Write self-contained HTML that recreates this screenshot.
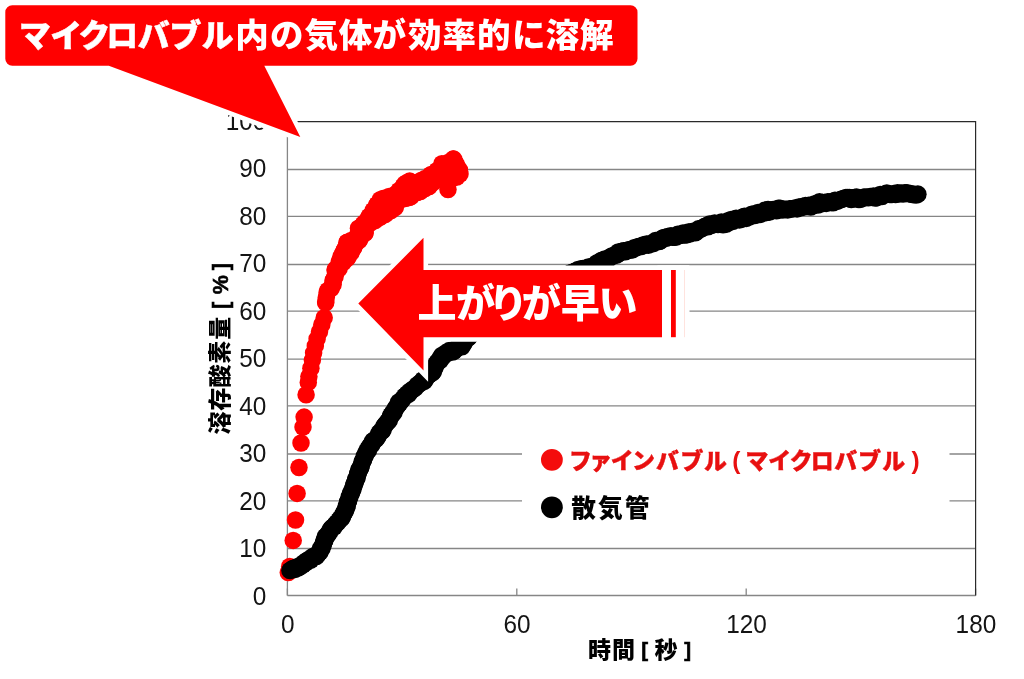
<!DOCTYPE html>
<html lang="ja"><head><meta charset="utf-8"><title>マイクロバブル 溶存酸素量</title>
<style>
html,body{margin:0;padding:0;background:#fff;}
body{width:1024px;height:679px;overflow:hidden;}
svg{display:block;}
text{font-family:"Liberation Sans","Noto Sans CJK JP",sans-serif;white-space:pre;}
.tick{font-size:25.9px;fill:#141414;}
.jp{font-weight:900;}
</style></head><body>
<svg width="1024" height="679" viewBox="0 0 1024 679">
<rect x="0" y="0" width="1024" height="679" fill="#ffffff"/>
<g stroke="#868686" stroke-width="1.3" fill="none">
<line x1="287.4" y1="595.50" x2="975.6" y2="595.50"/>
<line x1="287.4" y1="548.50" x2="975.6" y2="548.50"/>
<line x1="287.4" y1="500.80" x2="975.6" y2="500.80"/>
<line x1="287.4" y1="454.00" x2="975.6" y2="454.00"/>
<line x1="287.4" y1="405.90" x2="975.6" y2="405.90"/>
<line x1="287.4" y1="359.20" x2="975.6" y2="359.20"/>
<line x1="287.4" y1="311.10" x2="975.6" y2="311.10"/>
<line x1="287.4" y1="264.50" x2="975.6" y2="264.50"/>
<line x1="287.4" y1="216.40" x2="975.6" y2="216.40"/>
<line x1="287.4" y1="169.50" x2="975.6" y2="169.50"/>
<line x1="287.4" y1="121.6" x2="287.4" y2="595.5"/>
<line x1="287.40" y1="588.5" x2="287.40" y2="595.5"/>
<line x1="516.80" y1="588.5" x2="516.80" y2="595.5"/>
<line x1="746.20" y1="588.5" x2="746.20" y2="595.5"/>
<line x1="975.60" y1="588.5" x2="975.60" y2="595.5"/>
</g>
<path d="M287.4 121.6 H975.6 V595.5" fill="none" stroke="#2a2a2a" stroke-width="1.2"/>
<rect x="522" y="432" width="427.5" height="96" fill="#ffffff"/>
<g class="tick" text-anchor="end">
<text transform="translate(266.4 604.70) scale(0.94 1)">0</text>
<text transform="translate(266.4 557.23) scale(0.94 1)">10</text>
<text transform="translate(266.4 509.76) scale(0.94 1)">20</text>
<text transform="translate(266.4 462.29) scale(0.94 1)">30</text>
<text transform="translate(266.4 414.82) scale(0.94 1)">40</text>
<text transform="translate(266.4 367.35) scale(0.94 1)">50</text>
<text transform="translate(266.4 319.88) scale(0.94 1)">60</text>
<text transform="translate(266.4 272.41) scale(0.94 1)">70</text>
<text transform="translate(266.4 224.94) scale(0.94 1)">80</text>
<text transform="translate(266.4 177.47) scale(0.94 1)">90</text>
<text transform="translate(266.4 130.00) scale(0.94 1)">100</text>
</g>
<g class="tick" text-anchor="middle">
<text transform="translate(287.70 633.4) scale(0.94 1)">0</text>
<text transform="translate(517.10 633.4) scale(0.94 1)">60</text>
<text transform="translate(746.50 633.4) scale(0.94 1)">120</text>
<text transform="translate(975.90 633.4) scale(0.94 1)">180</text>
</g>
<text class="jp" fill="#000"><tspan x="588.1 612.0" y="657.9" font-size="23">時間</tspan><tspan x="635.5 641.2 648.2" y="656.9" font-size="20.5" stroke="#000" stroke-width="0.6"> [ </tspan><tspan x="654.6" y="657.9" font-size="23">秒</tspan><tspan x="678.6 684.3" y="656.9" font-size="20.5" stroke="#000" stroke-width="0.6"> ]</tspan></text>
<text class="jp" fill="#000" transform="translate(227.6 349.7) rotate(-90)"><tspan x="-84.8 -61.1 -37.7 -14.1 9.9" y="0.0" font-size="23">溶存酸素量</tspan><tspan x="34.6 40.6 49.5 55.5 73.5 79.5" y="0.1" font-size="21.5" stroke="#000" stroke-width="0.6"> [ % ]</tspan></text>
<g fill="#ff0000">
<circle cx="288.3" cy="572.5" r="8.75"/>
<circle cx="289.7" cy="566.5" r="8.75"/>
<circle cx="293.2" cy="540.4" r="8.75"/>
<circle cx="295.5" cy="520.0" r="8.75"/>
<circle cx="297.1" cy="493.4" r="8.75"/>
<circle cx="299.0" cy="467.5" r="8.75"/>
<circle cx="301.0" cy="443.0" r="8.75"/>
<circle cx="303.0" cy="427.1" r="8.75"/>
<circle cx="304.1" cy="417.1" r="8.75"/>
<circle cx="306.1" cy="394.7" r="8.75"/>
<circle cx="308.3" cy="382.4" r="8.75"/>
<circle cx="308.9" cy="376.6" r="8.75"/>
<circle cx="310.9" cy="368.3" r="8.75"/>
<circle cx="312.4" cy="360.1" r="8.75"/>
<circle cx="313.6" cy="353.0" r="8.75"/>
<circle cx="315.3" cy="345.9" r="8.75"/>
<circle cx="317.1" cy="338.9" r="8.75"/>
<circle cx="319.5" cy="331.8" r="8.75"/>
<circle cx="321.8" cy="324.7" r="8.75"/>
<circle cx="324.2" cy="317.7" r="8.75"/>
<circle cx="325.7" cy="301.8" r="8.75"/>
<circle cx="453.7" cy="159.1" r="8.75"/>
<circle cx="441.9" cy="163.7" r="8.75"/>
<circle cx="459.4" cy="169.9" r="8.75"/>
<circle cx="456.8" cy="177.1" r="8.75"/>
<circle cx="448.0" cy="189.5" r="8.75"/>
<circle cx="455.1" cy="162.5" r="8.75"/>
<circle cx="437.1" cy="170.5" r="8.75"/>
<circle cx="389.1" cy="196.5" r="8.75"/>
<circle cx="365.1" cy="232.5" r="8.75"/>
<circle cx="457.1" cy="174.5" r="8.75"/>
<circle cx="333.1" cy="284.5" r="8.75"/>
<circle cx="443.1" cy="178.5" r="8.75"/>
<circle cx="369.1" cy="216.5" r="8.75"/>
<circle cx="459.1" cy="170.5" r="8.75"/>
<circle cx="341.1" cy="256.5" r="8.75"/>
<circle cx="429.1" cy="186.5" r="8.75"/>
<circle cx="433.1" cy="182.5" r="8.75"/>
<circle cx="411.1" cy="196.5" r="8.75"/>
<circle cx="383.1" cy="198.5" r="8.75"/>
<circle cx="331.1" cy="288.5" r="8.75"/>
<circle cx="347.1" cy="242.5" r="8.75"/>
<circle cx="327.1" cy="292.5" r="8.75"/>
<circle cx="359.1" cy="240.5" r="8.75"/>
<circle cx="417.1" cy="192.5" r="8.75"/>
<circle cx="445.1" cy="164.5" r="8.75"/>
<circle cx="373.1" cy="210.5" r="8.75"/>
<circle cx="385.1" cy="214.5" r="8.75"/>
<circle cx="407.1" cy="182.5" r="8.75"/>
<circle cx="431.1" cy="174.5" r="8.75"/>
<circle cx="339.1" cy="268.5" r="8.75"/>
<circle cx="391.1" cy="210.5" r="8.75"/>
<circle cx="351.1" cy="252.5" r="8.75"/>
<circle cx="421.1" cy="180.5" r="8.75"/>
<circle cx="375.1" cy="220.5" r="8.75"/>
<circle cx="343.1" cy="252.5" r="8.75"/>
<circle cx="333.1" cy="280.5" r="8.75"/>
<circle cx="347.1" cy="258.5" r="8.75"/>
<circle cx="457.1" cy="166.5" r="8.75"/>
<circle cx="335.1" cy="270.5" r="8.75"/>
<circle cx="395.1" cy="194.5" r="8.75"/>
<circle cx="405.1" cy="198.5" r="8.75"/>
<circle cx="377.1" cy="204.5" r="8.75"/>
<circle cx="351.1" cy="240.5" r="8.75"/>
<circle cx="353.1" cy="248.5" r="8.75"/>
<circle cx="345.1" cy="248.5" r="8.75"/>
<circle cx="335.1" cy="276.5" r="8.75"/>
<circle cx="425.1" cy="178.5" r="8.75"/>
<circle cx="359.1" cy="228.5" r="8.75"/>
<circle cx="371.1" cy="222.5" r="8.75"/>
<circle cx="381.1" cy="216.5" r="8.75"/>
<circle cx="399.1" cy="190.5" r="8.75"/>
<circle cx="425.1" cy="188.5" r="8.75"/>
<circle cx="399.1" cy="200.5" r="8.75"/>
<circle cx="395.1" cy="206.5" r="8.75"/>
<circle cx="449.1" cy="162.5" r="8.75"/>
<circle cx="365.1" cy="228.5" r="8.75"/>
<circle cx="441.1" cy="168.5" r="8.75"/>
<circle cx="339.1" cy="262.5" r="8.75"/>
<circle cx="357.1" cy="236.5" r="8.75"/>
<circle cx="363.1" cy="224.5" r="8.75"/>
<circle cx="417.1" cy="182.5" r="8.75"/>
<circle cx="403.1" cy="186.5" r="8.75"/>
<circle cx="343.1" cy="262.5" r="8.75"/>
<circle cx="421.1" cy="190.5" r="8.75"/>
<circle cx="439.1" cy="178.5" r="8.75"/>
<circle cx="355.1" cy="244.5" r="8.75"/>
<circle cx="367.1" cy="220.5" r="8.75"/>
<circle cx="359.1" cy="232.5" r="8.75"/>
<circle cx="413.1" cy="182.5" r="8.75"/>
<circle cx="361.1" cy="236.5" r="8.75"/>
<circle cx="453.1" cy="176.5" r="8.75"/>
<circle cx="367.1" cy="224.5" r="8.75"/>
<circle cx="449.1" cy="176.5" r="8.75"/>
<circle cx="435.1" cy="178.5" r="8.75"/>
<circle cx="413.1" cy="192.5" r="8.75"/>
<circle cx="373.1" cy="214.5" r="8.75"/>
<circle cx="435.1" cy="174.5" r="8.75"/>
<circle cx="387.1" cy="210.5" r="8.75"/>
<circle cx="395.1" cy="202.5" r="8.75"/>
<circle cx="355.1" cy="240.5" r="8.75"/>
<circle cx="381.1" cy="202.5" r="8.75"/>
<circle cx="377.1" cy="208.5" r="8.75"/>
<circle cx="429.1" cy="178.5" r="8.75"/>
<circle cx="347.1" cy="254.5" r="8.75"/>
<circle cx="377.1" cy="216.5" r="8.75"/>
<circle cx="429.1" cy="182.5" r="8.75"/>
<circle cx="393.1" cy="198.5" r="8.75"/>
<circle cx="445.1" cy="168.5" r="8.75"/>
<circle cx="399.1" cy="194.5" r="8.75"/>
<circle cx="387.1" cy="200.5" r="8.75"/>
<circle cx="445.1" cy="174.5" r="8.75"/>
<circle cx="349.1" cy="246.5" r="8.75"/>
<circle cx="391.1" cy="206.5" r="8.75"/>
<circle cx="403.1" cy="190.5" r="8.75"/>
<circle cx="407.1" cy="186.5" r="8.75"/>
<circle cx="455.1" cy="170.5" r="8.75"/>
<circle cx="421.1" cy="184.5" r="8.75"/>
<circle cx="407.1" cy="194.5" r="8.75"/>
<circle cx="441.1" cy="172.5" r="8.75"/>
<circle cx="417.1" cy="188.5" r="8.75"/>
<circle cx="381.1" cy="212.5" r="8.75"/>
<circle cx="425.1" cy="182.5" r="8.75"/>
<circle cx="453.1" cy="166.5" r="8.75"/>
<circle cx="449.1" cy="166.5" r="8.75"/>
<circle cx="377.1" cy="212.5" r="8.75"/>
<circle cx="403.1" cy="194.5" r="8.75"/>
<circle cx="381.1" cy="206.5" r="8.75"/>
<circle cx="413.1" cy="186.5" r="8.75"/>
<circle cx="451.1" cy="172.5" r="8.75"/>
<circle cx="387.1" cy="206.5" r="8.75"/>
<circle cx="391.1" cy="202.5" r="8.75"/>
<circle cx="409.1" cy="190.5" r="8.75"/>
<circle cx="325.7" cy="302.8" r="8.75"/>
<circle cx="327.8" cy="290.5" r="8.75"/>
<circle cx="333.5" cy="280.1" r="8.75"/>
<circle cx="335.4" cy="269.2" r="8.75"/>
<circle cx="339.7" cy="260.8" r="8.75"/>
<circle cx="344.6" cy="249.9" r="8.75"/>
<circle cx="347.2" cy="242.2" r="8.75"/>
<circle cx="356.6" cy="236.8" r="8.75"/>
<circle cx="358.5" cy="228.3" r="8.75"/>
<circle cx="364.5" cy="222.7" r="8.75"/>
<circle cx="370.5" cy="215.6" r="8.75"/>
<circle cx="376.9" cy="205.0" r="8.75"/>
<circle cx="380.2" cy="199.8" r="8.75"/>
<circle cx="384.8" cy="198.3" r="8.75"/>
<circle cx="394.8" cy="195.0" r="8.75"/>
<circle cx="404.8" cy="184.0" r="8.75"/>
<circle cx="409.7" cy="181.1" r="8.75"/>
<circle cx="418.6" cy="182.0" r="8.75"/>
<circle cx="430.5" cy="175.3" r="8.75"/>
<circle cx="438.8" cy="170.1" r="8.75"/>
<circle cx="447.7" cy="162.8" r="8.75"/>
<circle cx="453.0" cy="159.1" r="8.75"/>
<circle cx="456.0" cy="164.1" r="8.75"/>
<circle cx="460.0" cy="174.0" r="8.75"/>
<circle cx="326.3" cy="297.5" r="8.75"/>
<circle cx="332.6" cy="284.5" r="8.75"/>
<circle cx="337.2" cy="270.5" r="8.75"/>
<circle cx="348.3" cy="256.7" r="8.75"/>
<circle cx="353.8" cy="247.2" r="8.75"/>
<circle cx="359.5" cy="239.2" r="8.75"/>
<circle cx="364.9" cy="233.3" r="8.75"/>
<circle cx="367.2" cy="225.3" r="8.75"/>
<circle cx="379.4" cy="217.6" r="8.75"/>
<circle cx="387.4" cy="212.6" r="8.75"/>
<circle cx="395.2" cy="207.5" r="8.75"/>
<circle cx="399.4" cy="200.4" r="8.75"/>
<circle cx="409.1" cy="197.6" r="8.75"/>
<circle cx="415.8" cy="192.6" r="8.75"/>
<circle cx="420.3" cy="191.5" r="8.75"/>
<circle cx="428.4" cy="186.6" r="8.75"/>
<circle cx="435.1" cy="180.3" r="8.75"/>
<circle cx="445.9" cy="177.3" r="8.75"/>
<circle cx="453.2" cy="177.7" r="8.75"/>
<circle cx="459.4" cy="171.7" r="8.75"/>
</g>
<g fill="#000000">
<circle cx="290.0" cy="570.5" r="8.85"/>
<circle cx="291.7" cy="569.4" r="8.85"/>
<circle cx="293.3" cy="568.3" r="8.85"/>
<circle cx="295.0" cy="569.3" r="8.85"/>
<circle cx="296.7" cy="567.0" r="8.85"/>
<circle cx="298.3" cy="567.8" r="8.85"/>
<circle cx="300.0" cy="566.7" r="8.85"/>
<circle cx="301.3" cy="564.8" r="8.85"/>
<circle cx="302.7" cy="565.1" r="8.85"/>
<circle cx="304.0" cy="562.7" r="8.85"/>
<circle cx="305.4" cy="562.9" r="8.85"/>
<circle cx="306.7" cy="560.8" r="8.85"/>
<circle cx="308.1" cy="559.9" r="8.85"/>
<circle cx="309.4" cy="559.9" r="8.85"/>
<circle cx="310.8" cy="560.1" r="8.85"/>
<circle cx="312.2" cy="557.0" r="8.85"/>
<circle cx="313.5" cy="556.3" r="8.85"/>
<circle cx="314.9" cy="556.5" r="8.85"/>
<circle cx="316.3" cy="556.5" r="8.85"/>
<circle cx="317.7" cy="554.4" r="8.85"/>
<circle cx="318.8" cy="552.2" r="8.85"/>
<circle cx="319.8" cy="552.3" r="8.85"/>
<circle cx="320.9" cy="547.9" r="8.85"/>
<circle cx="321.9" cy="548.6" r="8.85"/>
<circle cx="323.0" cy="545.3" r="8.85"/>
<circle cx="323.5" cy="543.2" r="8.85"/>
<circle cx="323.9" cy="541.5" r="8.85"/>
<circle cx="324.4" cy="540.4" r="8.85"/>
<circle cx="324.8" cy="540.3" r="8.85"/>
<circle cx="325.3" cy="536.7" r="8.85"/>
<circle cx="326.4" cy="536.5" r="8.85"/>
<circle cx="327.4" cy="535.3" r="8.85"/>
<circle cx="328.5" cy="533.1" r="8.85"/>
<circle cx="329.5" cy="532.2" r="8.85"/>
<circle cx="330.6" cy="529.3" r="8.85"/>
<circle cx="331.8" cy="527.9" r="8.85"/>
<circle cx="333.0" cy="526.9" r="8.85"/>
<circle cx="334.1" cy="526.9" r="8.85"/>
<circle cx="335.3" cy="524.8" r="8.85"/>
<circle cx="336.5" cy="523.0" r="8.85"/>
<circle cx="337.7" cy="522.4" r="8.85"/>
<circle cx="338.9" cy="520.6" r="8.85"/>
<circle cx="340.0" cy="518.7" r="8.85"/>
<circle cx="341.2" cy="518.8" r="8.85"/>
<circle cx="342.4" cy="517.1" r="8.85"/>
<circle cx="343.1" cy="514.1" r="8.85"/>
<circle cx="343.8" cy="513.4" r="8.85"/>
<circle cx="344.6" cy="511.6" r="8.85"/>
<circle cx="345.3" cy="511.0" r="8.85"/>
<circle cx="346.0" cy="508.9" r="8.85"/>
<circle cx="346.5" cy="505.9" r="8.85"/>
<circle cx="347.0" cy="506.4" r="8.85"/>
<circle cx="347.6" cy="502.1" r="8.85"/>
<circle cx="348.1" cy="501.4" r="8.85"/>
<circle cx="348.6" cy="500.8" r="8.85"/>
<circle cx="349.2" cy="497.2" r="8.85"/>
<circle cx="349.9" cy="496.5" r="8.85"/>
<circle cx="350.5" cy="493.4" r="8.85"/>
<circle cx="351.1" cy="493.5" r="8.85"/>
<circle cx="351.7" cy="492.0" r="8.85"/>
<circle cx="352.4" cy="489.7" r="8.85"/>
<circle cx="353.0" cy="488.9" r="8.85"/>
<circle cx="353.6" cy="485.4" r="8.85"/>
<circle cx="354.2" cy="484.9" r="8.85"/>
<circle cx="354.8" cy="482.9" r="8.85"/>
<circle cx="355.4" cy="481.2" r="8.85"/>
<circle cx="355.9" cy="479.1" r="8.85"/>
<circle cx="356.5" cy="478.6" r="8.85"/>
<circle cx="357.1" cy="477.2" r="8.85"/>
<circle cx="357.7" cy="474.1" r="8.85"/>
<circle cx="358.3" cy="473.1" r="8.85"/>
<circle cx="358.9" cy="469.7" r="8.85"/>
<circle cx="359.4" cy="470.1" r="8.85"/>
<circle cx="360.0" cy="468.4" r="8.85"/>
<circle cx="360.6" cy="467.8" r="8.85"/>
<circle cx="361.2" cy="465.8" r="8.85"/>
<circle cx="362.0" cy="462.4" r="8.85"/>
<circle cx="362.8" cy="460.9" r="8.85"/>
<circle cx="363.5" cy="460.0" r="8.85"/>
<circle cx="364.3" cy="456.3" r="8.85"/>
<circle cx="365.1" cy="455.9" r="8.85"/>
<circle cx="365.9" cy="453.2" r="8.85"/>
<circle cx="366.7" cy="451.5" r="8.85"/>
<circle cx="367.6" cy="449.8" r="8.85"/>
<circle cx="368.4" cy="450.5" r="8.85"/>
<circle cx="369.3" cy="447.0" r="8.85"/>
<circle cx="370.1" cy="445.9" r="8.85"/>
<circle cx="371.0" cy="444.8" r="8.85"/>
<circle cx="371.8" cy="444.7" r="8.85"/>
<circle cx="372.8" cy="441.0" r="8.85"/>
<circle cx="373.8" cy="440.7" r="8.85"/>
<circle cx="374.8" cy="439.7" r="8.85"/>
<circle cx="375.9" cy="439.3" r="8.85"/>
<circle cx="376.9" cy="437.8" r="8.85"/>
<circle cx="377.9" cy="436.5" r="8.85"/>
<circle cx="378.9" cy="433.4" r="8.85"/>
<circle cx="379.9" cy="432.5" r="8.85"/>
<circle cx="380.9" cy="431.0" r="8.85"/>
<circle cx="381.9" cy="431.2" r="8.85"/>
<circle cx="383.0" cy="430.1" r="8.85"/>
<circle cx="384.0" cy="426.3" r="8.85"/>
<circle cx="385.0" cy="425.1" r="8.85"/>
<circle cx="386.0" cy="423.9" r="8.85"/>
<circle cx="387.1" cy="422.3" r="8.85"/>
<circle cx="388.1" cy="421.5" r="8.85"/>
<circle cx="389.2" cy="420.3" r="8.85"/>
<circle cx="390.0" cy="417.8" r="8.85"/>
<circle cx="390.8" cy="415.5" r="8.85"/>
<circle cx="391.6" cy="415.3" r="8.85"/>
<circle cx="392.3" cy="413.6" r="8.85"/>
<circle cx="393.1" cy="412.7" r="8.85"/>
<circle cx="393.9" cy="412.4" r="8.85"/>
<circle cx="394.7" cy="410.1" r="8.85"/>
<circle cx="395.7" cy="408.0" r="8.85"/>
<circle cx="396.7" cy="406.8" r="8.85"/>
<circle cx="397.7" cy="405.5" r="8.85"/>
<circle cx="398.8" cy="402.1" r="8.85"/>
<circle cx="399.8" cy="403.1" r="8.85"/>
<circle cx="400.8" cy="401.3" r="8.85"/>
<circle cx="401.8" cy="400.0" r="8.85"/>
<circle cx="403.1" cy="398.8" r="8.85"/>
<circle cx="404.5" cy="396.5" r="8.85"/>
<circle cx="405.8" cy="395.6" r="8.85"/>
<circle cx="407.2" cy="393.7" r="8.85"/>
<circle cx="408.5" cy="394.2" r="8.85"/>
<circle cx="409.9" cy="391.5" r="8.85"/>
<circle cx="411.2" cy="390.5" r="8.85"/>
<circle cx="412.6" cy="389.8" r="8.85"/>
<circle cx="414.0" cy="388.5" r="8.85"/>
<circle cx="415.4" cy="387.8" r="8.85"/>
<circle cx="416.7" cy="385.8" r="8.85"/>
<circle cx="418.1" cy="384.5" r="8.85"/>
<circle cx="419.5" cy="383.8" r="8.85"/>
<circle cx="420.7" cy="382.4" r="8.85"/>
<circle cx="421.9" cy="382.0" r="8.85"/>
<circle cx="423.0" cy="379.8" r="8.85"/>
<circle cx="424.2" cy="381.2" r="8.85"/>
<circle cx="425.4" cy="379.2" r="8.85"/>
<circle cx="426.6" cy="376.7" r="8.85"/>
<circle cx="427.7" cy="375.8" r="8.85"/>
<circle cx="428.9" cy="374.9" r="8.85"/>
<circle cx="430.1" cy="373.8" r="8.85"/>
<circle cx="431.2" cy="371.9" r="8.85"/>
<circle cx="432.4" cy="372.8" r="8.85"/>
<circle cx="433.3" cy="371.6" r="8.85"/>
<circle cx="434.3" cy="368.4" r="8.85"/>
<circle cx="435.2" cy="366.8" r="8.85"/>
<circle cx="436.2" cy="364.0" r="8.85"/>
<circle cx="437.1" cy="362.4" r="8.85"/>
<circle cx="438.1" cy="361.7" r="8.85"/>
<circle cx="439.1" cy="360.1" r="8.85"/>
<circle cx="440.1" cy="360.4" r="8.85"/>
<circle cx="441.0" cy="357.1" r="8.85"/>
<circle cx="442.0" cy="355.3" r="8.85"/>
<circle cx="443.0" cy="356.7" r="8.85"/>
<circle cx="444.6" cy="354.6" r="8.85"/>
<circle cx="446.1" cy="352.7" r="8.85"/>
<circle cx="447.7" cy="353.1" r="8.85"/>
<circle cx="449.3" cy="350.7" r="8.85"/>
<circle cx="450.8" cy="351.5" r="8.85"/>
<circle cx="452.4" cy="352.0" r="8.85"/>
<circle cx="454.0" cy="350.9" r="8.85"/>
<circle cx="455.6" cy="349.6" r="8.85"/>
<circle cx="457.1" cy="347.5" r="8.85"/>
<circle cx="458.7" cy="347.1" r="8.85"/>
<circle cx="460.3" cy="345.7" r="8.85"/>
<circle cx="461.9" cy="346.7" r="8.85"/>
<circle cx="462.9" cy="344.3" r="8.85"/>
<circle cx="463.9" cy="343.3" r="8.85"/>
<circle cx="465.0" cy="340.2" r="8.85"/>
<circle cx="466.0" cy="338.2" r="8.85"/>
<circle cx="467.3" cy="338.5" r="8.85"/>
<circle cx="468.7" cy="337.6" r="8.85"/>
<circle cx="470.0" cy="335.8" r="8.85"/>
<circle cx="471.3" cy="334.3" r="8.85"/>
<circle cx="472.7" cy="332.9" r="8.85"/>
<circle cx="474.0" cy="331.2" r="8.85"/>
<circle cx="475.5" cy="328.5" r="8.85"/>
<circle cx="476.9" cy="328.3" r="8.85"/>
<circle cx="478.4" cy="326.7" r="8.85"/>
<circle cx="479.8" cy="324.5" r="8.85"/>
<circle cx="481.3" cy="323.4" r="8.85"/>
<circle cx="482.7" cy="323.0" r="8.85"/>
<circle cx="484.2" cy="321.8" r="8.85"/>
<circle cx="485.6" cy="322.0" r="8.85"/>
<circle cx="487.1" cy="321.6" r="8.85"/>
<circle cx="488.5" cy="319.0" r="8.85"/>
<circle cx="490.0" cy="319.3" r="8.85"/>
<circle cx="491.5" cy="318.5" r="8.85"/>
<circle cx="493.0" cy="317.5" r="8.85"/>
<circle cx="494.5" cy="314.7" r="8.85"/>
<circle cx="496.0" cy="313.4" r="8.85"/>
<circle cx="497.5" cy="312.4" r="8.85"/>
<circle cx="499.0" cy="311.4" r="8.85"/>
<circle cx="500.5" cy="310.5" r="8.85"/>
<circle cx="502.0" cy="310.8" r="8.85"/>
<circle cx="503.5" cy="310.7" r="8.85"/>
<circle cx="505.0" cy="309.5" r="8.85"/>
<circle cx="506.5" cy="307.5" r="8.85"/>
<circle cx="508.0" cy="307.1" r="8.85"/>
<circle cx="509.5" cy="306.5" r="8.85"/>
<circle cx="511.0" cy="303.5" r="8.85"/>
<circle cx="512.5" cy="304.2" r="8.85"/>
<circle cx="514.0" cy="304.0" r="8.85"/>
<circle cx="515.5" cy="302.7" r="8.85"/>
<circle cx="517.0" cy="301.7" r="8.85"/>
<circle cx="518.5" cy="299.9" r="8.85"/>
<circle cx="520.0" cy="298.0" r="8.85"/>
<circle cx="521.6" cy="299.0" r="8.85"/>
<circle cx="523.2" cy="296.8" r="8.85"/>
<circle cx="524.7" cy="297.4" r="8.85"/>
<circle cx="526.3" cy="297.0" r="8.85"/>
<circle cx="527.9" cy="294.5" r="8.85"/>
<circle cx="529.5" cy="293.7" r="8.85"/>
<circle cx="531.1" cy="294.4" r="8.85"/>
<circle cx="532.6" cy="292.9" r="8.85"/>
<circle cx="534.2" cy="290.4" r="8.85"/>
<circle cx="535.8" cy="289.5" r="8.85"/>
<circle cx="537.4" cy="288.7" r="8.85"/>
<circle cx="538.9" cy="290.1" r="8.85"/>
<circle cx="540.5" cy="289.0" r="8.85"/>
<circle cx="542.1" cy="286.1" r="8.85"/>
<circle cx="543.7" cy="287.3" r="8.85"/>
<circle cx="545.3" cy="287.0" r="8.85"/>
<circle cx="546.8" cy="285.2" r="8.85"/>
<circle cx="548.4" cy="283.4" r="8.85"/>
<circle cx="550.0" cy="283.1" r="8.85"/>
<circle cx="551.7" cy="281.1" r="8.85"/>
<circle cx="553.3" cy="280.0" r="8.85"/>
<circle cx="555.0" cy="282.2" r="8.85"/>
<circle cx="556.7" cy="280.4" r="8.85"/>
<circle cx="558.3" cy="279.3" r="8.85"/>
<circle cx="560.0" cy="279.8" r="8.85"/>
<circle cx="561.7" cy="277.6" r="8.85"/>
<circle cx="563.3" cy="278.1" r="8.85"/>
<circle cx="565.0" cy="277.2" r="8.85"/>
<circle cx="566.7" cy="274.6" r="8.85"/>
<circle cx="568.3" cy="274.0" r="8.85"/>
<circle cx="570.0" cy="273.4" r="8.85"/>
<circle cx="571.6" cy="272.5" r="8.85"/>
<circle cx="573.2" cy="272.9" r="8.85"/>
<circle cx="574.9" cy="271.3" r="8.85"/>
<circle cx="576.5" cy="271.1" r="8.85"/>
<circle cx="578.1" cy="269.5" r="8.85"/>
<circle cx="579.8" cy="271.2" r="8.85"/>
<circle cx="581.4" cy="268.8" r="8.85"/>
<circle cx="583.0" cy="268.5" r="8.85"/>
<circle cx="584.8" cy="268.5" r="8.85"/>
<circle cx="586.5" cy="269.0" r="8.85"/>
<circle cx="588.3" cy="267.2" r="8.85"/>
<circle cx="590.1" cy="268.3" r="8.85"/>
<circle cx="591.8" cy="266.6" r="8.85"/>
<circle cx="593.6" cy="266.3" r="8.85"/>
<circle cx="595.2" cy="265.4" r="8.85"/>
<circle cx="596.8" cy="263.0" r="8.85"/>
<circle cx="598.4" cy="263.4" r="8.85"/>
<circle cx="600.0" cy="261.7" r="8.85"/>
<circle cx="601.7" cy="260.3" r="8.85"/>
<circle cx="603.3" cy="261.8" r="8.85"/>
<circle cx="604.9" cy="259.0" r="8.85"/>
<circle cx="606.5" cy="259.0" r="8.85"/>
<circle cx="608.2" cy="258.9" r="8.85"/>
<circle cx="609.9" cy="257.6" r="8.85"/>
<circle cx="611.6" cy="256.0" r="8.85"/>
<circle cx="613.2" cy="255.8" r="8.85"/>
<circle cx="614.9" cy="255.1" r="8.85"/>
<circle cx="616.6" cy="254.9" r="8.85"/>
<circle cx="618.3" cy="252.0" r="8.85"/>
<circle cx="620.1" cy="252.8" r="8.85"/>
<circle cx="621.8" cy="251.3" r="8.85"/>
<circle cx="623.6" cy="250.8" r="8.85"/>
<circle cx="625.3" cy="251.7" r="8.85"/>
<circle cx="627.1" cy="250.3" r="8.85"/>
<circle cx="628.9" cy="249.9" r="8.85"/>
<circle cx="630.6" cy="249.9" r="8.85"/>
<circle cx="632.4" cy="249.7" r="8.85"/>
<circle cx="634.2" cy="247.8" r="8.85"/>
<circle cx="635.9" cy="247.8" r="8.85"/>
<circle cx="637.7" cy="246.9" r="8.85"/>
<circle cx="639.5" cy="246.4" r="8.85"/>
<circle cx="641.2" cy="246.4" r="8.85"/>
<circle cx="643.0" cy="245.2" r="8.85"/>
<circle cx="644.8" cy="244.9" r="8.85"/>
<circle cx="646.6" cy="244.2" r="8.85"/>
<circle cx="648.3" cy="245.1" r="8.85"/>
<circle cx="650.1" cy="243.8" r="8.85"/>
<circle cx="651.9" cy="243.7" r="8.85"/>
<circle cx="653.7" cy="243.3" r="8.85"/>
<circle cx="655.5" cy="240.7" r="8.85"/>
<circle cx="657.4" cy="241.0" r="8.85"/>
<circle cx="659.2" cy="241.5" r="8.85"/>
<circle cx="661.0" cy="240.6" r="8.85"/>
<circle cx="662.7" cy="238.1" r="8.85"/>
<circle cx="664.3" cy="237.6" r="8.85"/>
<circle cx="666.0" cy="238.2" r="8.85"/>
<circle cx="667.7" cy="236.6" r="8.85"/>
<circle cx="669.4" cy="236.7" r="8.85"/>
<circle cx="671.0" cy="235.8" r="8.85"/>
<circle cx="672.7" cy="237.2" r="8.85"/>
<circle cx="674.4" cy="237.1" r="8.85"/>
<circle cx="676.0" cy="237.0" r="8.85"/>
<circle cx="677.7" cy="234.4" r="8.85"/>
<circle cx="679.5" cy="235.6" r="8.85"/>
<circle cx="681.2" cy="235.0" r="8.85"/>
<circle cx="683.0" cy="233.1" r="8.85"/>
<circle cx="684.7" cy="234.9" r="8.85"/>
<circle cx="686.5" cy="234.7" r="8.85"/>
<circle cx="688.3" cy="232.0" r="8.85"/>
<circle cx="690.0" cy="233.8" r="8.85"/>
<circle cx="691.8" cy="231.7" r="8.85"/>
<circle cx="693.5" cy="231.6" r="8.85"/>
<circle cx="695.3" cy="232.7" r="8.85"/>
<circle cx="696.9" cy="231.6" r="8.85"/>
<circle cx="698.5" cy="228.9" r="8.85"/>
<circle cx="700.0" cy="229.1" r="8.85"/>
<circle cx="701.6" cy="228.7" r="8.85"/>
<circle cx="703.2" cy="227.5" r="8.85"/>
<circle cx="704.8" cy="226.4" r="8.85"/>
<circle cx="706.3" cy="226.1" r="8.85"/>
<circle cx="707.9" cy="226.7" r="8.85"/>
<circle cx="709.5" cy="224.0" r="8.85"/>
<circle cx="711.2" cy="225.3" r="8.85"/>
<circle cx="712.9" cy="224.7" r="8.85"/>
<circle cx="714.6" cy="223.2" r="8.85"/>
<circle cx="716.3" cy="223.8" r="8.85"/>
<circle cx="718.0" cy="224.4" r="8.85"/>
<circle cx="719.7" cy="223.8" r="8.85"/>
<circle cx="721.4" cy="222.2" r="8.85"/>
<circle cx="723.1" cy="224.7" r="8.85"/>
<circle cx="724.8" cy="223.9" r="8.85"/>
<circle cx="726.4" cy="223.9" r="8.85"/>
<circle cx="728.0" cy="220.8" r="8.85"/>
<circle cx="729.6" cy="220.8" r="8.85"/>
<circle cx="731.2" cy="219.6" r="8.85"/>
<circle cx="732.9" cy="221.3" r="8.85"/>
<circle cx="734.5" cy="219.3" r="8.85"/>
<circle cx="736.1" cy="218.4" r="8.85"/>
<circle cx="737.7" cy="218.8" r="8.85"/>
<circle cx="739.4" cy="219.8" r="8.85"/>
<circle cx="741.1" cy="219.2" r="8.85"/>
<circle cx="742.8" cy="217.1" r="8.85"/>
<circle cx="744.5" cy="216.3" r="8.85"/>
<circle cx="746.2" cy="218.3" r="8.85"/>
<circle cx="747.9" cy="216.8" r="8.85"/>
<circle cx="749.6" cy="216.8" r="8.85"/>
<circle cx="751.3" cy="214.6" r="8.85"/>
<circle cx="753.0" cy="214.1" r="8.85"/>
<circle cx="754.7" cy="215.4" r="8.85"/>
<circle cx="756.4" cy="214.1" r="8.85"/>
<circle cx="758.1" cy="212.5" r="8.85"/>
<circle cx="759.7" cy="214.5" r="8.85"/>
<circle cx="761.4" cy="213.1" r="8.85"/>
<circle cx="763.1" cy="213.0" r="8.85"/>
<circle cx="764.8" cy="210.4" r="8.85"/>
<circle cx="766.5" cy="212.4" r="8.85"/>
<circle cx="768.1" cy="209.7" r="8.85"/>
<circle cx="769.8" cy="211.8" r="8.85"/>
<circle cx="771.5" cy="210.2" r="8.85"/>
<circle cx="773.2" cy="209.6" r="8.85"/>
<circle cx="774.9" cy="209.9" r="8.85"/>
<circle cx="776.5" cy="210.7" r="8.85"/>
<circle cx="778.2" cy="208.4" r="8.85"/>
<circle cx="780.1" cy="208.3" r="8.85"/>
<circle cx="782.0" cy="209.9" r="8.85"/>
<circle cx="783.9" cy="209.3" r="8.85"/>
<circle cx="785.8" cy="209.3" r="8.85"/>
<circle cx="787.7" cy="209.8" r="8.85"/>
<circle cx="789.6" cy="208.9" r="8.85"/>
<circle cx="791.5" cy="208.8" r="8.85"/>
<circle cx="793.3" cy="208.6" r="8.85"/>
<circle cx="795.2" cy="208.0" r="8.85"/>
<circle cx="797.1" cy="208.8" r="8.85"/>
<circle cx="798.8" cy="207.2" r="8.85"/>
<circle cx="800.5" cy="207.7" r="8.85"/>
<circle cx="802.2" cy="206.5" r="8.85"/>
<circle cx="803.8" cy="206.9" r="8.85"/>
<circle cx="805.5" cy="205.7" r="8.85"/>
<circle cx="807.2" cy="206.2" r="8.85"/>
<circle cx="808.9" cy="205.3" r="8.85"/>
<circle cx="810.7" cy="206.9" r="8.85"/>
<circle cx="812.4" cy="205.7" r="8.85"/>
<circle cx="814.2" cy="204.0" r="8.85"/>
<circle cx="816.0" cy="204.2" r="8.85"/>
<circle cx="817.7" cy="204.9" r="8.85"/>
<circle cx="819.5" cy="201.8" r="8.85"/>
<circle cx="821.2" cy="203.8" r="8.85"/>
<circle cx="822.8" cy="202.5" r="8.85"/>
<circle cx="824.5" cy="202.5" r="8.85"/>
<circle cx="826.2" cy="203.3" r="8.85"/>
<circle cx="827.9" cy="201.8" r="8.85"/>
<circle cx="829.5" cy="202.0" r="8.85"/>
<circle cx="831.2" cy="202.4" r="8.85"/>
<circle cx="833.1" cy="202.7" r="8.85"/>
<circle cx="835.0" cy="200.3" r="8.85"/>
<circle cx="836.9" cy="201.2" r="8.85"/>
<circle cx="838.8" cy="200.3" r="8.85"/>
<circle cx="840.7" cy="199.6" r="8.85"/>
<circle cx="842.5" cy="198.8" r="8.85"/>
<circle cx="844.2" cy="198.6" r="8.85"/>
<circle cx="846.0" cy="197.6" r="8.85"/>
<circle cx="847.8" cy="197.7" r="8.85"/>
<circle cx="849.5" cy="197.5" r="8.85"/>
<circle cx="851.3" cy="199.4" r="8.85"/>
<circle cx="853.0" cy="197.9" r="8.85"/>
<circle cx="854.8" cy="197.5" r="8.85"/>
<circle cx="856.5" cy="197.2" r="8.85"/>
<circle cx="858.2" cy="199.3" r="8.85"/>
<circle cx="859.9" cy="199.3" r="8.85"/>
<circle cx="861.6" cy="198.7" r="8.85"/>
<circle cx="863.3" cy="197.4" r="8.85"/>
<circle cx="865.0" cy="197.2" r="8.85"/>
<circle cx="866.7" cy="197.3" r="8.85"/>
<circle cx="868.4" cy="197.7" r="8.85"/>
<circle cx="870.1" cy="196.7" r="8.85"/>
<circle cx="871.8" cy="197.2" r="8.85"/>
<circle cx="873.5" cy="196.2" r="8.85"/>
<circle cx="875.2" cy="197.9" r="8.85"/>
<circle cx="876.8" cy="197.6" r="8.85"/>
<circle cx="878.5" cy="195.9" r="8.85"/>
<circle cx="880.2" cy="194.6" r="8.85"/>
<circle cx="881.9" cy="196.4" r="8.85"/>
<circle cx="883.5" cy="194.3" r="8.85"/>
<circle cx="885.1" cy="194.4" r="8.85"/>
<circle cx="886.8" cy="193.2" r="8.85"/>
<circle cx="888.4" cy="194.2" r="8.85"/>
<circle cx="890.0" cy="194.4" r="8.85"/>
<circle cx="891.9" cy="194.5" r="8.85"/>
<circle cx="893.8" cy="193.6" r="8.85"/>
<circle cx="895.6" cy="194.4" r="8.85"/>
<circle cx="897.5" cy="192.9" r="8.85"/>
<circle cx="899.4" cy="193.7" r="8.85"/>
<circle cx="901.2" cy="193.1" r="8.85"/>
<circle cx="903.1" cy="194.0" r="8.85"/>
<circle cx="905.0" cy="192.9" r="8.85"/>
<circle cx="906.8" cy="192.9" r="8.85"/>
<circle cx="908.7" cy="193.7" r="8.85"/>
<circle cx="910.5" cy="193.5" r="8.85"/>
<circle cx="912.3" cy="194.5" r="8.85"/>
<circle cx="914.1" cy="194.3" r="8.85"/>
<circle cx="916.0" cy="195.0" r="8.85"/>
<circle cx="917.8" cy="194.2" r="8.85"/>
</g>
<circle cx="551.9" cy="459.8" r="10.9" fill="#f40c0c"/>
<text class="jp" fill="#e81010"><tspan x="569.1 589.2 610.8 631.9 656.0 680.4 704.0" y="469.1" font-size="22.89" stroke="#e81010" stroke-width="0.4">ファインバブル</tspan><tspan x="725.4 732.2 740.5" y="469.0" font-size="24.5"> ( </tspan><tspan x="745.4 768.3 789.8 810.7 834.3 858.2 882.3" y="469.1" font-size="22.89" stroke="#e81010" stroke-width="0.4">マイクロバブル</tspan><tspan x="904.7 911.5" y="469.0" font-size="24.5"> )</tspan></text>
<circle cx="551.9" cy="507.3" r="10.9" fill="#000"/>
<text class="jp" fill="#000"><tspan x="571.2 598.1 624.8" y="516.6" font-size="24.7">散気管</tspan></text>
<g stroke="#ffffff" stroke-width="9.2" stroke-linejoin="miter" fill="#ffffff">
<path d="M358.3 303.6 L423.5 237.8 V270 H662 V337.2 H423.5 V370.5 Z"/>
<rect x="662" y="270" width="22.6" height="67.2"/>
<rect x="671" y="270" width="4.8" height="67.2"/>
<rect x="684.2" y="270" width="0.6" height="67.2"/>
</g>
<path d="M358.3 303.6 L423.5 237.8 V270 H662 V337.2 H423.5 V370.5 Z" fill="#ff0000"/>
<rect x="671" y="270" width="4.8" height="67.2" fill="#ff0000"/>
<rect x="684.2" y="270" width="0.6" height="67.2" fill="#ffd0c8"/>
<text class="jp" fill="#fff"><tspan x="417.4 455.9 488.8 521.8 560.7 598.5" y="317.4" font-size="39">上がりが早い</tspan></text>
<path d="M12.3 5.3 H630.5 A7 7 0 0 1 637.5 12.3 V58.8 A7 7 0 0 1 630.5 65.8 H264.3 L300.3 137.1 L108.8 65.8 H12.3 A7 7 0 0 1 5.3 58.8 V12.3 A7 7 0 0 1 12.3 5.3 Z" fill="#fff" stroke="#fff" stroke-width="9.2" stroke-linejoin="miter"/>
<path d="M12.3 5.3 H630.5 A7 7 0 0 1 637.5 12.3 V58.8 A7 7 0 0 1 630.5 65.8 H264.3 L300.3 137.1 L108.8 65.8 H12.3 A7 7 0 0 1 5.3 58.8 V12.3 A7 7 0 0 1 12.3 5.3 Z" fill="#ff0000"/>
<text class="jp" fill="#fff"><tspan x="19.1 50.2 78.4 106.2 137.8 169.6 201.8" y="46.5" font-size="31.82" stroke="#fff" stroke-width="0.5">マイクロバブル</tspan><tspan x="235.3 269.9 304.5 338.7 372.6 408.1 442.5 476.9 512.1 545.8 580.0" y="47.1" font-size="33.5">内の気体が効率的に溶解</tspan></text>
</svg>
</body></html>
